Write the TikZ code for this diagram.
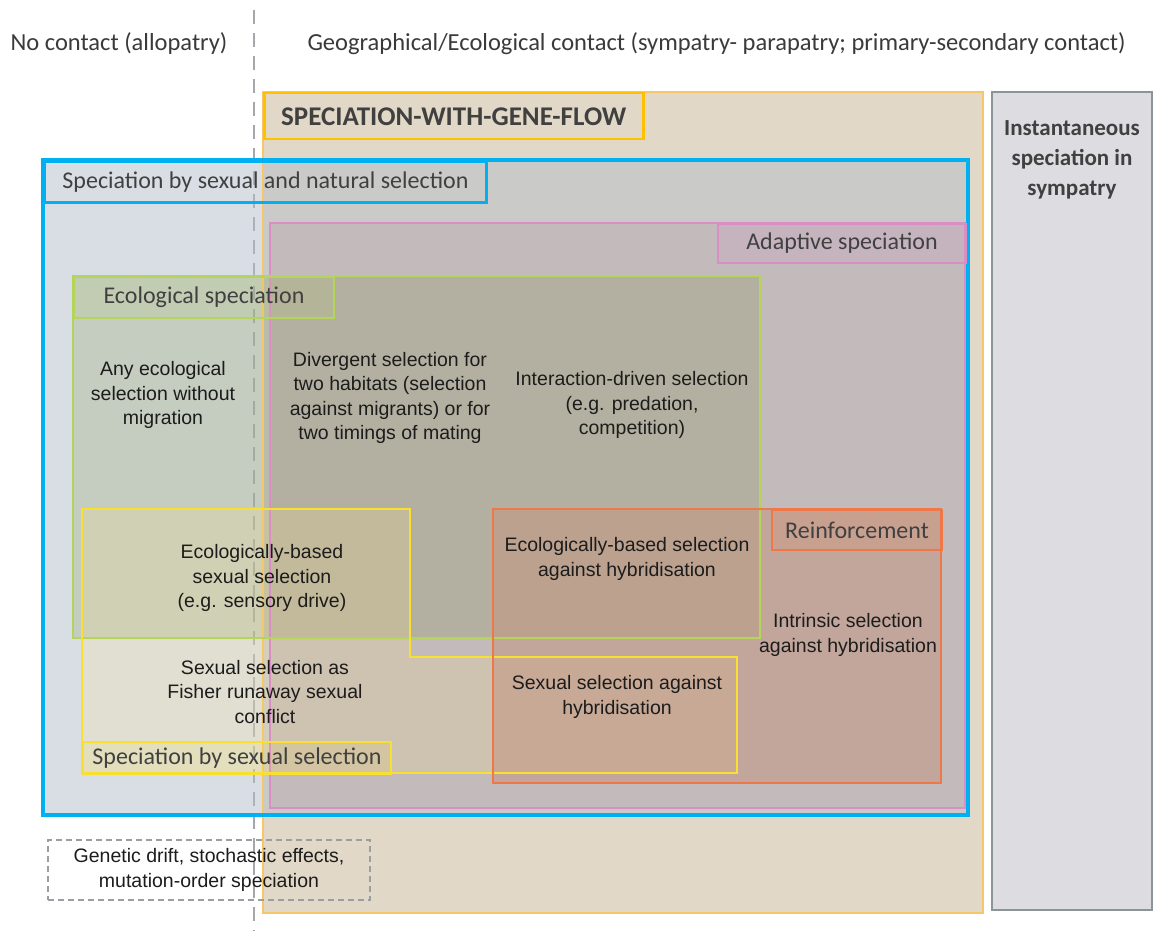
\documentclass[tikz,border=0pt]{standalone}
\usepackage{fontspec}
\setmainfont{Carlito}
\newfontfamily\notefont{Liberation Sans}
\usetikzlibrary{positioning}

\definecolor{headtext}{HTML}{3A3A3A}
\definecolor{tagtext}{HTML}{404040}
\definecolor{notetext}{HTML}{1C1C1C}
\definecolor{sepline}{HTML}{A4A8AD}
\definecolor{flowfill}{HTML}{E2D8C7}
\definecolor{flowline}{HTML}{F8C66A}
\definecolor{flowtag}{HTML}{FFC000}
\definecolor{instfill}{HTML}{DCDCE1}
\definecolor{instline}{HTML}{8C9399}
\definecolor{bluefill}{HTML}{B3BDC9}
\definecolor{blueline}{HTML}{00B0F0}
\definecolor{pinkfill}{HTML}{B497A2}
\definecolor{pinkline}{HTML}{D98FC6}
\definecolor{greenfill}{HTML}{899654}
\definecolor{greenline}{HTML}{B5D55A}
\definecolor{yellowfill}{HTML}{FCE385}
\definecolor{yellowline}{HTML}{F8E030}
\definecolor{orangefill}{HTML}{C29680}
\definecolor{orangeline}{HTML}{F07848}
\definecolor{driftline}{HTML}{9A9EA3}

\begin{document}
\begin{tikzpicture}[x=1pt, y=-1pt,
  region/.style={line width=1.8pt},
  tagbox/.style={draw, line width=2pt, inner sep=0pt, anchor=north west,
    fill opacity=0.12, text opacity=1, text=tagtext,
    font=\fontsize{24}{28}\selectfont},
  note/.style={align=center, text=notetext,
    font=\notefont\fontsize{19.5}{24.5}\selectfont}]

  \useasboundingbox (0,0) rectangle (1157,931);

  % allopatry | contact divide
  \draw[sepline, line width=2.5pt, dash pattern=on 14pt off 9pt] (254,10) -- (254,931);

  % headings
  \node[text=headtext, font=\fontsize{24.5}{28}\selectfont] (allo) at (119,44) {No contact (allopatry)};
  \node[text=headtext, font=\fontsize{24.5}{28}\selectfont, anchor=west] (contact) at (304,44)
    {Geographical/Ecological contact (sympatry- parapatry; primary-secondary contact)};

  % fills
  \fill[flowfill] (263,92) rectangle (983,913);
  \fill[instfill] (992,92) rectangle (1152,910);
  \fill[bluefill, opacity=0.5] (43,160) rectangle (968,815);
  \fill[pinkfill, opacity=0.3] (270,223) rectangle (965,808);
  \fill[greenfill, opacity=0.25] (73,276) rectangle (760,638);
  \fill[yellowfill, opacity=0.2] (82,509) -- (410,509) -- (410,657) -- (737,657)
    -- (737,773) -- (82,773) -- cycle;
  \fill[orangefill, opacity=0.55] (493,509) rectangle (941,783);

  % outlines
  \draw[region, flowline] (263,92) rectangle (983,913);
  \draw[region, instline, line width=2.2pt] (992,92) rectangle (1152,910);
  \draw[blueline, line width=3.2pt] (43,160) rectangle (968,815);
  \draw[region, pinkline] (270,223) rectangle (965,808);
  \draw[region, greenline] (73,276) rectangle (760,638);
  \draw[region, yellowline] (82,509) -- (410,509) -- (410,657) -- (737,657)
    -- (737,773) -- (82,773) -- cycle;
  \draw[region, orangeline] (493,509) rectangle (941,783);

  % region tags
  \node[tagbox, draw=flowtag, line width=2.5pt, minimum width=379, minimum height=46,
    font=\bfseries\fontsize{27}{30}\selectfont] (tagflow) at (263,92) {SPECIATION-WITH-GENE-FLOW};
  \node[tagbox, draw=blueline, line width=3pt, minimum width=442, minimum height=41]
    (tagboth) at (43,160) {Speciation by sexual and natural selection};
  \node[tagbox, draw=pinkline, fill=pinkline, minimum width=248, minimum height=39]
    (tagadapt) at (717,223) {Adaptive speciation};
  \node[tagbox, draw=greenline, fill=greenline, minimum width=260, minimum height=41]
    (tageco) at (73,276) {Ecological speciation};
  \node[tagbox, draw=yellowline, fill=yellowline, minimum width=308, minimum height=32]
    (tagsex) at (82,741) {Speciation by sexual selection};
  \node[tagbox, draw=orangeline, fill=orangeline, minimum width=170, minimum height=40]
    (tagreinf) at (771,509) {Reinforcement};

  \node[align=center, text=tagtext, font=\bfseries\fontsize{23}{30}\selectfont] (inst) at (1072,160)
    {Instantaneous\\speciation in\\sympatry};

  % mechanisms
  \node[note] (anyeco) at (163,395) {Any ecological\\selection without\\migration};
  \node[note] (divsel) at (390,398) {Divergent selection for\\two habitats (selection\\against migrants) or for\\two timings of mating};
  \node[note] (interact) at (632,405) {Interaction-driven selection\\(e.g. predation,\\competition)};
  \node[note] (ecosex) at (262,578) {Ecologically-based\\sexual selection\\(e.g. sensory drive)};
  \node[note] (fisher) at (265,692) {Sexual selection as\\Fisher runaway sexual\\conflict};
  \node[note] (ecohyb) at (627,559) {Ecologically-based selection\\against hybridisation};
  \node[note] (sexhyb) at (617,697) {Sexual selection against\\hybridisation};
  \node[note] (intrinsic) at (848,635) {Intrinsic selection\\against hybridisation};

  % drift box
  \node[note, draw=driftline, line width=1.5pt, dash pattern=on 6pt off 4pt,
    minimum width=322, minimum height=60] (drift) at (209,870)
    {Genetic drift, stochastic effects,\\mutation-order speciation};
\end{tikzpicture}
\end{document}
